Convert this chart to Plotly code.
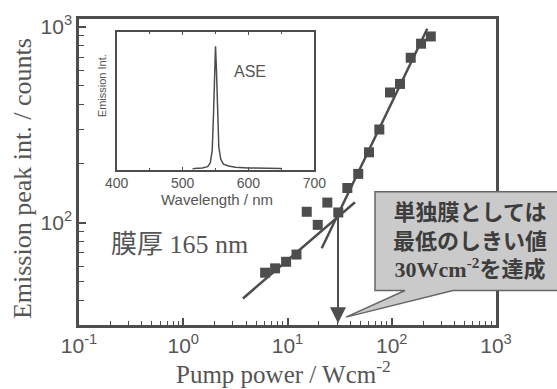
import plotly.graph_objects as go
import numpy as np

# ---- main data (pump power vs emission peak intensity) ----
pump_power = [6.1, 7.6, 9.7, 12.2, 15.3, 19.5, 24.1, 30.7, 37.5, 47.7,
              60.5, 76.0, 96.2, 120, 152, 191, 237]
peak_int = [55.5, 58.4, 63.1, 68.7, 113.6, 97.4, 126.6, 112.7, 150.3, 177.4,
            228.6, 299, 462, 511, 695, 820, 893]

# fitted lines (end points)
fit_low_x = [3.74, 44.4]
fit_low_y = [41.0, 127.0]
fit_high_x = [21.3, 219.0]
fit_high_y = [74.0, 977.0]

threshold = 30.5          # Wcm^-2
threshold_top = 108.0     # intensity where lines cross

x_tickvals = [0.1, 1, 10, 100, 1000]
x_ticktext = ["10<sup>-1</sup>", "10<sup>0</sup>", "10<sup>1</sup>", "10<sup>2</sup>", "10<sup>3</sup>"]
y_tickvals = [100, 1000]
y_ticktext = ["10<sup>2</sup>", "10<sup>3</sup>"]
y_minor = [40, 50, 60, 70, 80, 90, 200, 300, 400, 500, 600, 700, 800, 900]
x_minor = [0.2, 0.3, 0.4, 0.5, 0.6, 0.7, 0.8, 0.9, 2, 3, 4, 5, 6, 7, 8, 9,
           20, 30, 40, 50, 60, 70, 80, 90, 200, 300, 400, 500, 600, 700, 800, 900]

# ---- inset spectrum ----
wavelength = [515, 518, 530, 538, 542, 545, 547, 548.5, 550, 551.5, 553, 555,
              558, 562, 570, 580, 600, 620, 650]
intensity = [0.0, 0.005, 0.01, 0.02, 0.05, 0.15, 0.45, 0.8, 1.0, 0.8, 0.45, 0.18,
             0.08, 0.04, 0.025, 0.015, 0.01, 0.008, 0.005]
inset_ticks = [400, 500, 600, 700]

C = "#4d4d4d"
SERIF = "Liberation Serif, Noto Sans CJK JP"
SANS = "Liberation Sans, Arial"

fig = go.Figure()
fig.add_trace(go.Scatter(x=fit_low_x, y=fit_low_y, mode="lines",
                         line=dict(color=C, width=2.5), showlegend=False))
fig.add_trace(go.Scatter(x=fit_high_x, y=fit_high_y, mode="lines",
                         line=dict(color=C, width=2.5), showlegend=False))
fig.add_trace(go.Scatter(x=pump_power, y=peak_int, mode="markers",
                         marker=dict(symbol="square", size=10, color=C),
                         showlegend=False))
fig.add_trace(go.Scatter(x=wavelength, y=intensity, mode="lines",
                         line=dict(color=C, width=1.5), xaxis="x2", yaxis="y2",
                         showlegend=False))

fig.update_layout(
    width=557, height=389,
    margin=dict(l=79, r=61, t=15, b=64),
    paper_bgcolor="white", plot_bgcolor="white",
    xaxis=dict(type="log", range=[-1, 3], showline=True, linecolor=C, linewidth=2.5,
               mirror=True, ticks="inside", ticklen=7, tickwidth=1.5, tickcolor=C,
               tickvals=x_tickvals, ticktext=x_ticktext, showgrid=False, zeroline=False,
               tickfont=dict(family=SANS, size=21, color="#555"),
               minor=dict(tickvals=x_minor, ticks="inside", ticklen=4, tickwidth=1.2,
                          tickcolor=C, showgrid=False)),
    yaxis=dict(type="log", range=[np.log10(30), 3.04], showline=True, linecolor=C,
               linewidth=2.5, mirror=True, ticks="inside", ticklen=7, tickwidth=1.5,
               tickcolor=C, tickvals=y_tickvals, ticktext=y_ticktext, showgrid=False,
               zeroline=False, tickfont=dict(family=SANS, size=21, color="#555"),
               minor=dict(tickvals=y_minor, ticks="inside", ticklen=5, tickwidth=1.2,
                          tickcolor=C, showgrid=False)),
    xaxis2=dict(domain=[0.0904, 0.5643], anchor="y2", range=[400, 700], showline=True,
                linecolor=C, linewidth=1.5, mirror="ticks", ticks="inside", ticklen=3,
                tickcolor=C, tickvals=inset_ticks, showgrid=False, zeroline=False,
                tickfont=dict(family=SANS, size=14, color="#555"),
                minor=dict(dtick=50, ticks="inside", ticklen=2, tickcolor=C)),
    yaxis2=dict(domain=[0.5074, 0.957], anchor="x2", range=[-0.005, 1.115], showline=True,
                linecolor=C, linewidth=1.5, mirror=True, ticks="", showticklabels=False,
                showgrid=False, zeroline=False),
)

bubble = ("M 0.7098,0.4355 L 1.16,0.4355 L 1.16,0.1129 L 0.8969,0.1129 "
          "L 0.6403,0.0258 L 0.7818,0.1129 L 0.7098,0.1129 Z")
fig.add_shape(type="path", path=bubble, xref="paper", yref="paper",
              fillcolor="#cacaca", line=dict(color="#666", width=1.5), layer="above")

ann = [
    dict(text="Emission peak int. / counts", x=-0.1367, y=0.48, xref="paper", yref="paper",
         textangle=-90, showarrow=False, font=dict(family=SERIF, size=26, color="#555")),
    dict(text="Pump power / Wcm<sup>-2</sup>", x=0.49, y=-0.153, xref="paper", yref="paper",
         showarrow=False, font=dict(family=SERIF, size=25, color="#555")),
    dict(text="膜厚 165 nm", x=0.2422, y=0.2645, xref="paper", yref="paper",
         showarrow=False, font=dict(family=SERIF, size=26, color="#555")),
    dict(text="ASE", x=0.41, y=0.829, xref="paper", yref="paper", showarrow=False,
         font=dict(family=SANS, size=16, color="#555")),
    dict(text="Emission Int.", x=0.0552, y=0.7806, xref="paper", yref="paper",
         textangle=-90, showarrow=False, font=dict(family=SANS, size=11, color="#555")),
    dict(text="Wavelength / nm", x=0.331, y=0.41, xref="paper", yref="paper",
         showarrow=False, font=dict(family=SANS, size=15, color="#555")),
    dict(text="<b>単独膜としては<br>最低のしきい値<br>30Wcm<sup>-2</sup>を達成</b>",
         x=0.9376, y=0.274, xref="paper", yref="paper", showarrow=False,
         font=dict(family=SERIF, size=22, color="#3d3d3d")),
]
for a in ann:
    a["xanchor"] = "center"
    a["yanchor"] = "middle"
ann.append(dict(x=np.log10(threshold), y=np.log10(30.6), ax=np.log10(threshold),
                ay=np.log10(threshold_top), xref="x", yref="y", axref="x", ayref="y",
                showarrow=True, arrowhead=2, arrowsize=1.6, arrowwidth=2, arrowcolor=C,
                text=""))
fig.update_layout(annotations=ann)

fig.write_html("out.html", config={"displayModeBar": False},
               post_script="document.body.style.margin='0px';")
